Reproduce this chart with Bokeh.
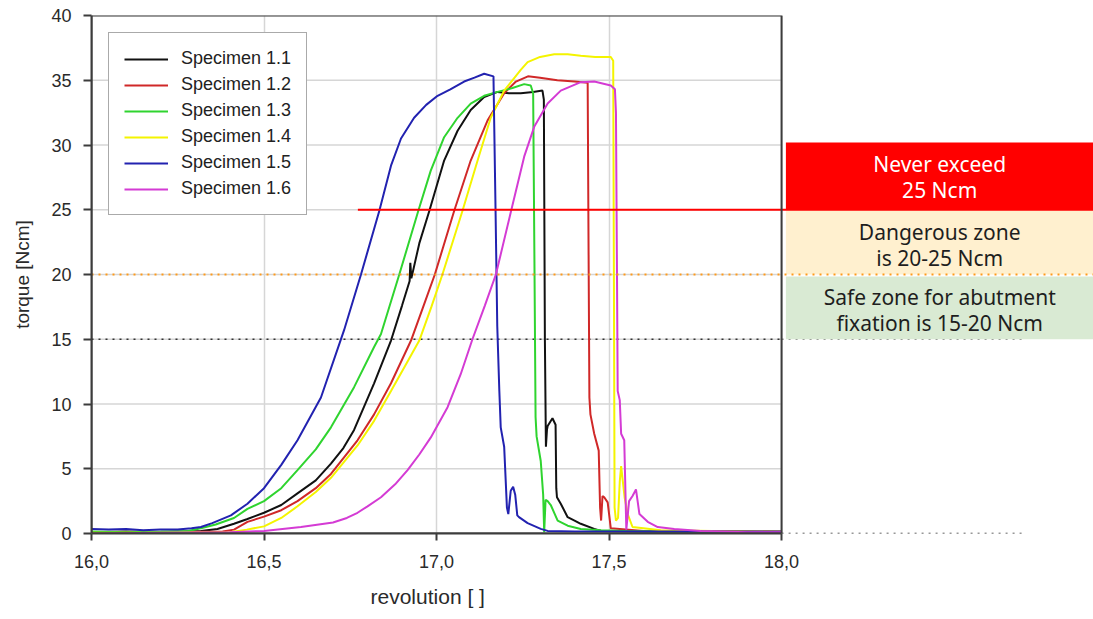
from bokeh.plotting import figure
from bokeh.models import FixedTicker, CustomJSTickFormatter, Range1d, Title
from bokeh.core.properties import value
from bokeh.embed import file_html
from bokeh.resources import INLINE

# ---------------- data ----------------
x_ticks = [16.0, 16.5, 17.0, 17.5, 18.0]
y_ticks = [0, 5, 10, 15, 20, 25, 30, 35, 40]

names = ["Specimen 1.1", "Specimen 1.2", "Specimen 1.3",
         "Specimen 1.4", "Specimen 1.5", "Specimen 1.6"]
colors = ["#111111", "#d02828", "#2fd42f", "#f4f400", "#2222b0", "#d43bd4"]

rev_1_1 = [16.00, 16.10, 16.20, 16.317, 16.365, 16.413, 16.45, 16.50, 16.55, 16.597,
           16.65, 16.694, 16.73, 16.761, 16.79, 16.819, 16.868, 16.90, 16.922, 16.924,
           16.927, 16.95, 16.979, 17.022, 17.061, 17.099, 17.138, 17.177, 17.21, 17.244,
           17.28, 17.307, 17.311, 17.314, 17.317, 17.320, 17.322, 17.336, 17.345, 17.347,
           17.349, 17.360, 17.380, 17.40, 17.418, 17.457, 17.477, 17.60, 18.00]
tq_1_1 = [0.10, 0.15, 0.10, 0.20, 0.35, 0.75, 1.1, 1.6, 2.2, 3.1,
          4.1, 5.4, 6.6, 8.0, 9.8, 11.6, 14.9, 17.6, 19.5, 20.9,
          19.7, 22.4, 24.9, 28.8, 31.1, 32.7, 33.7, 34.1, 34.0, 34.0,
          34.1, 34.2, 33.5, 15.0, 6.7, 8.0, 8.3, 8.9, 8.4, 3.5,
          2.8, 2.3, 1.26, 1.0, 0.75, 0.36, 0.2, 0.15, 0.10]

rev_1_2 = [16.00, 16.20, 16.38, 16.413, 16.452, 16.50, 16.55, 16.597, 16.65, 16.694,
           16.771, 16.819, 16.868, 16.926, 16.96, 16.995, 17.051, 17.099, 17.148, 17.196,
           17.23, 17.265, 17.30, 17.35, 17.40, 17.438, 17.441, 17.443, 17.446, 17.457,
           17.470, 17.474, 17.477, 17.481, 17.486, 17.496, 17.505, 17.60, 17.80, 18.00]
tq_1_2 = [0.10, 0.10, 0.15, 0.3, 0.9, 1.3, 1.8, 2.5, 3.5, 4.6,
          7.2, 9.2, 11.6, 14.9, 17.4, 20.0, 24.9, 28.8, 31.9, 34.0,
          34.9, 35.3, 35.2, 35.0, 34.9, 34.8, 20.0, 10.5, 9.2, 7.7,
          6.4, 2.0, 1.0, 2.9, 2.8, 2.4, 0.4, 0.2, 0.2, 0.15]

rev_1_3 = [16.00, 16.10, 16.20, 16.28, 16.317, 16.36, 16.413, 16.452, 16.50, 16.55,
           16.597, 16.65, 16.694, 16.761, 16.819, 16.839, 16.892, 16.947, 16.983, 17.022,
           17.061, 17.099, 17.138, 17.177, 17.22, 17.254, 17.273, 17.280, 17.284, 17.287,
           17.290, 17.302, 17.309, 17.312, 17.316, 17.322, 17.331, 17.351, 17.380, 17.418,
           17.477, 17.55, 17.70, 18.00]
tq_1_3 = [0.15, 0.10, 0.15, 0.2, 0.4, 0.7, 1.2, 1.9, 2.5, 3.5,
          4.9, 6.5, 8.2, 11.3, 14.4, 15.4, 20.0, 24.9, 28.0, 30.6,
          32.1, 33.2, 33.8, 34.1, 34.4, 34.7, 34.6, 34.0, 20.0, 9.0,
          7.5, 5.6, 3.0, 0.1, 2.6, 2.5, 2.2, 1.0, 0.6, 0.35,
          0.25, 0.2, 0.15, 0.10]

rev_1_4 = [16.00, 16.20, 16.40, 16.45, 16.50, 16.55, 16.597, 16.65, 16.694, 16.771,
           16.819, 16.868, 16.91, 16.950, 16.985, 17.017, 17.075, 17.119, 17.157, 17.196,
           17.244, 17.264, 17.30, 17.341, 17.38, 17.418, 17.46, 17.505, 17.512, 17.514,
           17.516, 17.520, 17.526, 17.531, 17.535, 17.540, 17.545, 17.554, 17.568, 17.65,
           17.80, 18.00]
tq_1_4 = [0.05, 0.05, 0.10, 0.3, 0.55, 1.2, 2.1, 3.2, 4.3, 6.8,
          8.7, 11.0, 13.0, 14.9, 17.5, 20.0, 24.9, 28.8, 32.1, 34.2,
          35.8, 36.4, 36.8, 37.0, 37.0, 36.9, 36.8, 36.8, 36.5, 20.0,
          2.0, 1.0, 1.2, 4.0, 5.2, 4.0, 2.8, 1.5, 0.5, 0.25,
          0.2, 0.15]

rev_1_5 = [16.00, 16.05, 16.10, 16.15, 16.20, 16.25, 16.29, 16.317, 16.35, 16.404,
           16.452, 16.50, 16.55, 16.597, 16.665, 16.732, 16.781, 16.834, 16.868, 16.897,
           16.935, 16.97, 17.003, 17.04, 17.08, 17.11, 17.138, 17.165, 17.171, 17.176,
           17.182, 17.186, 17.196, 17.204, 17.208, 17.215, 17.222, 17.228, 17.234, 17.239,
           17.264, 17.302, 17.322, 17.40, 17.60, 17.80, 18.00]
tq_1_5 = [0.35, 0.30, 0.35, 0.25, 0.30, 0.30, 0.4, 0.5, 0.8, 1.4,
          2.3, 3.5, 5.3, 7.2, 10.5, 15.7, 20.0, 24.9, 28.4, 30.5,
          32.1, 33.1, 33.8, 34.3, 34.9, 35.2, 35.5, 35.3, 25.0, 16.0,
          11.0, 8.2, 6.7, 2.0, 1.5, 3.3, 3.6, 3.0, 1.4, 1.26,
          0.8, 0.36, 0.2, 0.15, 0.15, 0.15, 0.15]

rev_1_6 = [16.00, 16.20, 16.40, 16.50, 16.607, 16.70, 16.74, 16.771, 16.80, 16.839,
           16.88, 16.916, 16.95, 16.983, 17.032, 17.070, 17.104, 17.14, 17.172, 17.216,
           17.254, 17.283, 17.322, 17.360, 17.418, 17.457, 17.505, 17.517, 17.520, 17.523,
           17.525, 17.531, 17.535, 17.544, 17.550, 17.558, 17.568, 17.578, 17.588, 17.612,
           17.641, 17.689, 17.766, 17.90, 18.00]
tq_1_6 = [0.0, 0.05, 0.10, 0.2, 0.5, 0.85, 1.2, 1.6, 2.1, 2.8,
          3.8, 4.9, 6.1, 7.4, 9.75, 12.3, 15.0, 17.6, 20.0, 24.9,
          29.1, 31.4, 33.2, 34.2, 34.85, 34.9, 34.6, 34.3, 32.5, 20.0,
          11.0, 10.3, 7.7, 7.2, 0.3, 2.5, 2.9, 3.4, 1.5, 0.9,
          0.5, 0.35, 0.2, 0.1, 0.1]

series_rev = [rev_1_1, rev_1_2, rev_1_3, rev_1_4, rev_1_5, rev_1_6]
series_tq = [tq_1_1, tq_1_2, tq_1_3, tq_1_4, tq_1_5, tq_1_6]

# zone annotations (torque limits in Ncm)
limit_never = 25
limit_danger_low = 20
limit_safe_low = 15
zone_texts = [["Never exceed", "25 Ncm"],
              ["Dangerous zone", "is 20-25 Ncm"],
              ["Safe zone for abutment", "fixation is 15-20 Ncm"]]
x_title = "revolution [ ]"
y_title = "torque [Ncm]"

# ---------------- figure ----------------
X_VIEW_END = 18.904
p = figure(width=1093, height=619, x_range=Range1d(16.0, X_VIEW_END),
           y_range=Range1d(0, 40), output_backend="svg", toolbar_location=None,
           min_border_left=91, min_border_right=0, min_border_top=15,
           min_border_bottom=86)
p.outline_line_color = None
p.background_fill_color = "white"

AX_FONT = "Liberation Sans"

# axes
p.xaxis.ticker = FixedTicker(ticks=x_ticks)
p.xaxis.formatter = CustomJSTickFormatter(code="return tick.toFixed(1).replace('.', ',');")
p.xaxis.bounds = (16.0, 18.0)
p.yaxis.ticker = FixedTicker(ticks=y_ticks)
for ax in (p.xaxis[0], p.yaxis[0]):
    ax.axis_line_color = "#3c3c3c"
    ax.axis_line_width = 2
    ax.major_tick_line_color = "#3c3c3c"
    ax.major_tick_line_width = 2
    ax.major_tick_in = 0
    ax.minor_tick_line_color = None
    ax.major_label_text_font = AX_FONT
    ax.major_label_text_font_size = "18px"
    ax.major_label_text_color = "#2a2a2a"
    ax.axis_label_text_font = AX_FONT
    ax.axis_label_text_font_style = "normal"
    ax.axis_label_text_color = "#2a2a2a"
p.xaxis.major_tick_out = 7
p.yaxis.major_tick_out = 8
p.xaxis.major_label_standoff = 14
p.yaxis.major_label_standoff = 12
p.yaxis.axis_label = y_title
p.yaxis.axis_label_text_font_size = "19px"
p.yaxis.axis_label_standoff = 15

# x axis title centred under the 16..18 plot box (not the full frame)
p.add_layout(Title(text=x_title, align="left", offset=279, standoff=24,
                   text_font=AX_FONT, text_font_size="21px",
                   text_font_style="normal", text_color="#2a2a2a"), "below")

# grid
p.xgrid.ticker = FixedTicker(ticks=x_ticks)
p.xgrid.grid_line_color = "#d6d6d6"
p.xgrid.grid_line_width = 1.5
p.ygrid.visible = False
p.segment(x0=[16.0] * len(y_ticks), x1=[18.0] * len(y_ticks), y0=y_ticks, y1=y_ticks,
          line_color="#d6d6d6", line_width=1.5)

# dotted reference lines
p.segment(x0=16.0, x1=18.0, y0=limit_safe_low, y1=limit_safe_low,
          line_color="#333333", line_width=1.6, line_dash="2 5")
p.segment(x0=18.0, x1=18.70, y0=limit_safe_low, y1=limit_safe_low,
          line_color="#888888", line_width=1.4, line_dash="2 5")
p.segment(x0=18.0, x1=18.70, y0=0, y1=0,
          line_color="#333333", line_width=1.6, line_dash="2 5")

# zone boxes
BOX_L = 18.0125
p.quad(left=BOX_L, right=X_VIEW_END, bottom=limit_never, top=30.2,
       fill_color="#ff0000", line_color=None)
p.quad(left=BOX_L, right=X_VIEW_END, bottom=limit_danger_low, top=limit_never,
       fill_color="#fff0cf", line_color=None)
p.quad(left=BOX_L, right=X_VIEW_END, bottom=limit_safe_low, top=19.85,
       fill_color="#d9ead3", line_color=None)

# curves
for rv, tq, nm, col in zip(series_rev, series_tq, names, colors):
    p.line(rv, tq, line_color=col, line_width=2, legend_label=nm)

# orange dotted (20) and red (25) lines
p.segment(x0=16.0, x1=X_VIEW_END, y0=limit_danger_low, y1=limit_danger_low,
          line_color="#ff9a1a", line_width=2, line_dash="2 5")
p.segment(x0=16.772, x1=X_VIEW_END, y0=limit_never, y1=limit_never,
          line_color="#ff0000", line_width=2)

# plot box
p.quad(left=16.0, right=18.0, bottom=0, top=40, fill_color=None,
       line_color="#3c3c3c", line_width=2)

# zone texts
cx = (BOX_L + X_VIEW_END) / 2
text_y = [[28.57, 26.49], [23.32, 21.31], [18.30, 16.29]]
text_col = ["white", "#1e1e1e", "#1e1e1e"]
for lines, ys, tc in zip(zone_texts, text_y, text_col):
    p.text(x=[cx, cx], y=ys, text=lines, text_align="center", text_baseline="middle",
           text_font=value("Noto Sans"), text_font_size="21px", text_color=tc)

# legend
lg = p.legend[0]
lg.location = "top_left"
lg.margin = 17
lg.padding = 15
lg.spacing = 5
lg.glyph_width = 44
lg.glyph_height = 20
lg.label_height = 20
lg.label_standoff = 13
lg.label_text_font = AX_FONT
lg.label_text_font_size = "18px"
lg.label_text_color = "#222222"
lg.border_line_color = "#555555"
lg.border_line_width = 1.5
lg.background_fill_alpha = 1.0

open("out.html", "w").write(file_html(p, INLINE))
